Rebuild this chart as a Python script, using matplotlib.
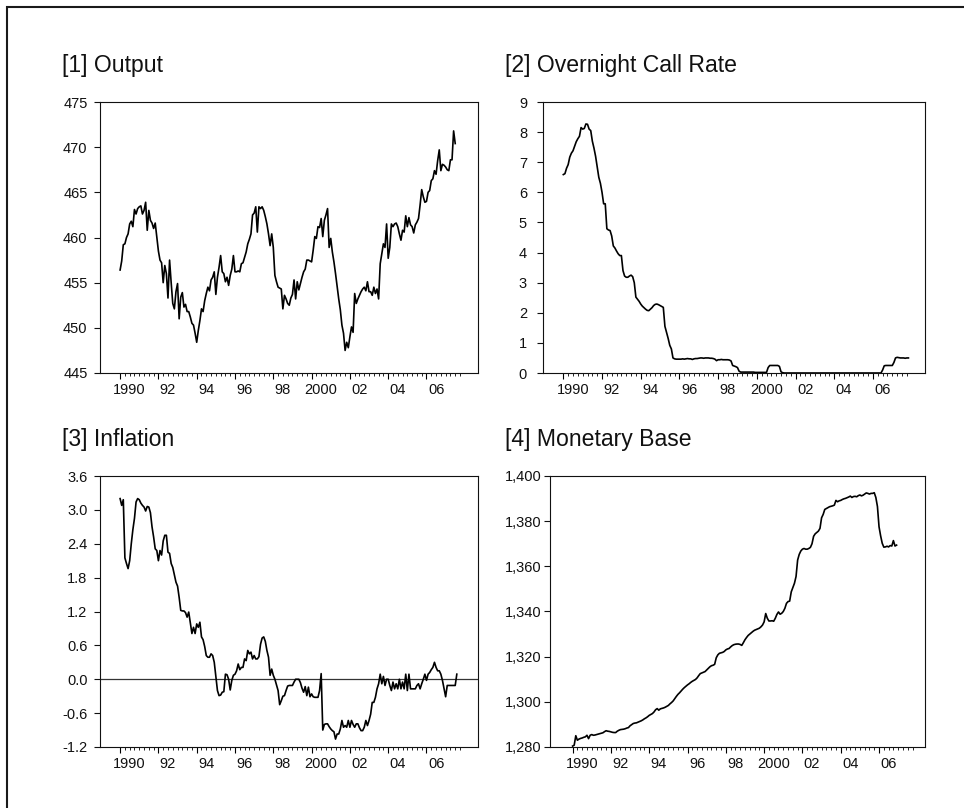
import numpy as np
import matplotlib
matplotlib.use('Agg')
import matplotlib.pyplot as plt
from matplotlib.patches import Rectangle

plt.rcParams['font.family'] = ['Liberation Sans', 'DejaVu Sans']

# monthly series, first observation January 1990
START = 1990

output = [
    456.4, 457.4, 459.2, 459.3, 460.0, 460.4, 461.5, 461.8, 461.2, 463.1, 462.6, 463.2,  # 1990
    463.4, 463.5, 462.6, 463.0, 463.9, 460.8, 463.0, 461.9, 461.6, 461.0, 461.6, 460.0,  # 1991
    458.5, 457.5, 457.2, 455.0, 456.9, 456.0, 453.3, 457.5, 455.0, 452.7, 452.1, 454.0,  # 1992
    454.9, 451.0, 453.4, 453.9, 452.3, 452.6, 451.8, 451.8, 451.2, 450.5, 450.3, 449.4,  # 1993
    448.4, 449.7, 450.8, 452.1, 451.8, 453.0, 453.8, 454.5, 454.1, 455.3, 455.6, 456.2,  # 1994
    453.7, 455.6, 456.7, 458.0, 456.2, 456.0, 455.1, 455.6, 454.7, 455.8, 456.5, 458.0,  # 1995
    456.2, 456.2, 456.3, 456.2, 457.1, 457.2, 457.8, 458.4, 459.3, 459.8, 460.4, 462.5,  # 1996
    462.7, 463.4, 460.6, 463.4, 463.2, 463.4, 463.0, 462.3, 461.5, 460.4, 459.1, 460.4,  # 1997
    458.9, 455.8, 455.1, 454.5, 454.4, 454.3, 452.1, 453.6, 453.2, 452.7, 452.5, 453.3,  # 1998
    453.7, 455.3, 453.2, 455.1, 454.2, 454.9, 455.6, 456.2, 456.5, 457.5, 457.5, 457.4,  # 1999
    457.3, 458.6, 460.1, 459.9, 461.2, 461.1, 462.1, 460.1, 461.9, 462.5, 463.2, 458.9,  # 2000
    459.9, 458.4, 457.3, 456.0, 454.6, 453.2, 452.0, 450.3, 449.4, 447.5, 448.4, 447.8,  # 2001
    449.0, 450.1, 449.5, 453.8, 452.7, 453.2, 453.6, 454.0, 454.3, 454.5, 454.1, 455.1,  # 2002
    454.0, 454.0, 453.6, 454.5, 453.8, 454.3, 453.2, 457.1, 458.2, 459.3, 458.9, 461.5,  # 2003
    457.7, 458.9, 461.5, 461.2, 461.5, 461.6, 461.2, 460.4, 459.7, 460.8, 460.6, 462.4,  # 2004
    461.2, 462.2, 461.4, 461.2, 460.5, 461.4, 461.7, 462.1, 463.6, 465.3, 464.5, 463.9,  # 2005
    464.0, 465.0, 465.2, 466.3, 466.5, 467.4, 467.0, 468.5, 469.7, 467.4, 468.1, 468.0,  # 2006
    467.8, 467.5, 467.4, 468.6, 468.6, 471.8, 470.4,                                      # 2007
]

call_rate = [
    6.59, 6.62, 6.80, 6.92, 7.17, 7.30, 7.38, 7.53, 7.68, 7.78, 7.86, 8.15,  # 1990
    8.10, 8.12, 8.27, 8.26, 8.10, 8.05, 7.70, 7.47, 7.20, 6.85, 6.50, 6.30,  # 1991
    6.00, 5.62, 5.62, 4.79, 4.75, 4.73, 4.55, 4.22, 4.15, 4.05, 3.96, 3.90,  # 1992
    3.90, 3.40, 3.22, 3.18, 3.18, 3.22, 3.25, 3.20, 3.00, 2.52, 2.45, 2.38,  # 1993
    2.29, 2.22, 2.17, 2.12, 2.08, 2.07, 2.12, 2.17, 2.24, 2.28, 2.29, 2.27,  # 1994
    2.24, 2.21, 2.18, 1.55, 1.35, 1.15, 0.92, 0.80, 0.50, 0.47, 0.46, 0.46,  # 1995
    0.46, 0.46, 0.47, 0.46, 0.47, 0.48, 0.47, 0.47, 0.45, 0.47, 0.48, 0.48,  # 1996
    0.49, 0.50, 0.50, 0.49, 0.50, 0.50, 0.50, 0.49, 0.49, 0.48, 0.46, 0.41,  # 1997
    0.44, 0.44, 0.45, 0.44, 0.44, 0.44, 0.44, 0.43, 0.40, 0.25, 0.23, 0.21,  # 1998
    0.18, 0.06, 0.03, 0.03, 0.03, 0.03, 0.03, 0.03, 0.03, 0.03, 0.03, 0.02,  # 1999
    0.02, 0.02, 0.02, 0.02, 0.02, 0.02, 0.02, 0.18, 0.25, 0.25, 0.25, 0.25,  # 2000
    0.25, 0.25, 0.22, 0.04, 0.01, 0.00, 0.00, 0.00, 0.00, 0.00, 0.00, 0.00,  # 2001
    0.00, 0.00, 0.00, 0.00, 0.00, 0.00, 0.00, 0.00, 0.00, 0.00, 0.00, 0.00,  # 2002
    0.00, 0.00, 0.00, 0.00, 0.00, 0.00, 0.00, 0.00, 0.00, 0.00, 0.00, 0.00,  # 2003
    0.00, 0.00, 0.00, 0.00, 0.00, 0.00, 0.00, 0.00, 0.00, 0.00, 0.00, 0.00,  # 2004
    0.00, 0.00, 0.00, 0.00, 0.00, 0.00, 0.00, 0.00, 0.00, 0.00, 0.00, 0.00,  # 2005
    0.00, 0.00, 0.00, 0.00, 0.00, 0.00, 0.10, 0.24, 0.25, 0.25, 0.25, 0.25,  # 2006
    0.25, 0.35, 0.50, 0.52, 0.51, 0.50, 0.50, 0.50, 0.49, 0.50, 0.50,        # 2007
]

inflation = [
    3.20, 3.08, 3.18, 2.15, 2.05, 1.96, 2.10, 2.40, 2.65, 2.85, 3.14, 3.20,  # 1990
    3.18, 3.12, 3.08, 3.05, 2.98, 3.06, 3.05, 2.95, 2.70, 2.52, 2.31, 2.28,  # 1991
    2.10, 2.28, 2.20, 2.45, 2.55, 2.55, 2.25, 2.23, 2.05, 1.98, 1.85, 1.72,  # 1992
    1.65, 1.45, 1.22, 1.21, 1.21, 1.18, 1.10, 1.19, 1.00, 0.81, 0.92, 0.81,  # 1993
    0.98, 0.92, 1.01, 0.75, 0.70, 0.58, 0.42, 0.39, 0.39, 0.45, 0.42, 0.30,  # 1994
    0.05, -0.20, -0.29, -0.28, -0.23, -0.22, 0.09, 0.08, 0.00, -0.19, -0.02, 0.07,  # 1995
    0.09, 0.15, 0.27, 0.17, 0.21, 0.21, 0.36, 0.33, 0.51, 0.45, 0.48, 0.36,  # 1996
    0.42, 0.36, 0.36, 0.40, 0.62, 0.73, 0.75, 0.67, 0.51, 0.39, 0.07, 0.18,  # 1997
    0.07, 0.00, -0.10, -0.20, -0.45, -0.38, -0.30, -0.29, -0.20, -0.12, -0.11, -0.11,  # 1998
    -0.11, -0.05, 0.00, 0.00, 0.00, -0.06, -0.16, -0.23, -0.13, -0.29, -0.14, -0.31,  # 1999
    -0.26, -0.31, -0.32, -0.32, -0.32, -0.20, 0.10, -0.90, -0.80, -0.79, -0.79, -0.84,  # 2000
    -0.88, -0.91, -0.93, -1.06, -0.97, -0.97, -0.88, -0.73, -0.85, -0.82, -0.85, -0.73,  # 2001
    -0.85, -0.73, -0.80, -0.85, -0.79, -0.79, -0.86, -0.91, -0.91, -0.85, -0.73, -0.82,  # 2002
    -0.73, -0.62, -0.41, -0.41, -0.32, -0.17, -0.08, 0.09, -0.08, 0.05, -0.11, 0.00,  # 2003
    0.00, -0.11, -0.20, -0.05, -0.17, -0.08, -0.17, 0.00, -0.17, -0.05, -0.17, 0.09,  # 2004
    -0.20, 0.09, -0.17, -0.17, -0.17, -0.17, -0.11, -0.08, -0.17, -0.08, 0.00, 0.09,  # 2005
    -0.02, 0.09, 0.12, 0.17, 0.21, 0.30, 0.21, 0.15, 0.15, 0.09, -0.02, -0.17,  # 2006
    -0.31, -0.11, -0.11, -0.11, -0.11, -0.11, -0.11, 0.09,                      # 2007
]

monetary_base = [
    1280.4, 1280.8, 1285.0, 1283.0, 1283.5, 1283.8, 1284.0, 1284.3, 1284.5, 1285.2, 1283.7, 1285.2,  # 1990
    1285.5, 1285.2, 1285.3, 1285.5, 1285.7, 1285.9, 1286.1, 1286.3, 1286.8, 1287.2, 1287.0, 1286.9,  # 1991
    1286.7, 1286.5, 1286.4, 1286.4, 1287.0, 1287.4, 1287.7, 1287.8, 1287.9, 1288.1, 1288.4, 1288.6,  # 1992
    1289.4, 1289.9, 1290.4, 1290.6, 1290.7, 1291.0, 1291.3, 1291.6, 1292.0, 1292.5, 1292.9, 1293.4,  # 1993
    1294.0, 1294.4, 1294.8, 1295.5, 1296.5, 1297.0, 1296.3, 1296.9, 1297.1, 1297.3, 1297.6, 1298.0,  # 1994
    1298.4, 1299.1, 1299.7, 1300.4, 1301.4, 1302.4, 1303.3, 1304.0, 1304.8, 1305.6, 1306.3, 1306.9,  # 1995
    1307.5, 1308.0, 1308.6, 1309.1, 1309.5, 1309.9, 1310.6, 1311.6, 1312.5, 1312.8, 1313.1, 1313.4,  # 1996
    1314.1, 1314.8, 1315.5, 1316.0, 1316.2, 1316.6, 1319.5, 1320.8, 1321.5, 1321.7, 1321.9, 1322.3,  # 1997
    1323.0, 1323.4, 1323.6, 1324.3, 1324.9, 1325.3, 1325.5, 1325.6, 1325.6, 1325.4, 1325.0, 1326.2,  # 1998
    1327.5, 1328.5, 1329.4, 1330.0, 1330.6, 1331.2, 1331.7, 1332.0, 1332.3, 1332.6, 1333.2, 1334.0,  # 1999
    1335.4, 1339.1, 1337.0, 1335.8, 1335.8, 1335.9, 1335.7, 1337.0, 1338.7, 1339.8, 1338.8, 1339.2,  # 2000
    1340.0, 1341.4, 1343.6, 1344.4, 1344.6, 1348.7, 1350.6, 1352.5, 1355.5, 1362.8, 1365.3, 1366.8,  # 2001
    1367.6, 1367.9, 1367.6, 1367.6, 1367.9, 1368.4, 1370.0, 1373.3, 1374.4, 1375.0, 1375.6, 1376.8,  # 2002
    1381.5, 1383.0, 1385.2, 1385.6, 1386.0, 1386.4, 1386.6, 1386.8, 1387.1, 1389.2, 1388.6, 1389.0,  # 2003
    1389.2, 1389.6, 1389.9, 1390.1, 1390.4, 1390.7, 1391.1, 1390.5, 1390.9, 1391.0, 1390.8, 1391.3,  # 2004
    1391.6, 1391.2, 1391.5, 1392.0, 1392.5, 1392.3, 1392.0, 1392.3, 1392.3, 1392.6, 1390.5, 1386.5,  # 2005
    1377.5, 1373.5, 1370.2, 1368.5, 1368.6, 1368.9, 1368.6, 1369.2, 1369.0, 1371.4, 1369.0, 1369.4,  # 2006
]

titles = ['[1] Output', '[2] Overnight Call Rate', '[3] Inflation', '[4] Monetary Base']
year_ticks = [1990, 1992, 1994, 1996, 1998, 2000, 2002, 2004, 2006]
year_labels = ['1990', '92', '94', '96', '98', '2000', '02', '04', '06']

output_ticks = [445, 450, 455, 460, 465, 470, 475]
call_ticks = [0, 1, 2, 3, 4, 5, 6, 7, 8, 9]
infl_ticks = [-1.2, -0.6, 0.0, 0.6, 1.2, 1.8, 2.4, 3.0, 3.6]
base_ticks = [1280, 1300, 1320, 1340, 1360, 1380, 1400]

W, H = 964, 808
fig = plt.figure(figsize=(W / 100, H / 100), dpi=100)


def box(left, right, top, bottom):
    # pixel box -> figure fraction [l, b, w, h]
    return [left / W, 1 - bottom / H, (right - left) / W, (bottom - top) / H]


def months(series):
    return START + np.arange(len(series)) / 12.0


def style(ax, yticks, ylabels, xlim, ypad):
    ax.set_xlim(*xlim)
    ax.set_ylim(yticks[0], yticks[-1])
    ax.set_yticks(yticks)
    ax.set_yticklabels(ylabels)
    ax.tick_params(axis='y', direction='out', length=4.5, width=0.8, pad=ypad,
                   labelsize=10.5, colors='#111111')
    ax.set_xticks(year_ticks)
    ax.set_xticks(np.arange(1990, 2007.8, 0.25), minor=True)
    ax.tick_params(axis='x', which='major', direction='out', length=4, width=0.8)
    ax.tick_params(axis='x', which='minor', direction='out', length=2.2, width=0.6)
    ax.tick_params(axis='x', which='both', labelbottom=False)
    for s in ax.spines.values():
        s.set_linewidth(0.8)
        s.set_color('#111111')
    # year labels sit in the middle of each year
    sec = ax.secondary_xaxis('bottom')
    sec.set_xticks([y + 0.5 for y in year_ticks], year_labels)
    sec.set_xticks([], minor=True)
    sec.tick_params(length=0, pad=7.5, labelsize=10.5, colors='#111111')
    sec.spines['bottom'].set_visible(False)


ax1 = fig.add_axes(box(100, 478, 102, 373))
ax2 = fig.add_axes(box(543, 925, 102, 373))
ax3 = fig.add_axes(box(100, 478, 476, 747))
ax4 = fig.add_axes(box(550, 925, 476, 747))

ax1.plot(months(output), output, color='black', lw=1.2)
style(ax1, output_ticks, [str(v) for v in output_ticks], (1988.95, 2008.69), 4.5)

ax2.plot(months(call_rate), call_rate, color='black', lw=1.2)
style(ax2, call_ticks, [str(v) for v in call_ticks], (1988.95, 2008.69), 7)

ax3.axhline(0, color='#333333', lw=0.9)
ax3.plot(months(inflation), inflation, color='black', lw=1.2)
style(ax3, infl_ticks, ['%.1f' % v for v in infl_ticks], (1988.95, 2008.69), 4.5)

ax4.plot(months(monetary_base), monetary_base, color='black', lw=1.2)
style(ax4, base_ticks, ['{:,}'.format(v) for v in base_ticks], (1988.82, 2008.4), 1.8)

# panel titles
title_pos = [(62, 72), (505, 72), (62, 446), (505, 446)]
for t, (x, y) in zip(titles, title_pos):
    fig.text(x / W, 1 - y / H, t, fontsize=16.6, va='baseline', ha='left', color='#111111')

# outer frame (only top and left edges fall inside the picture)
fig.add_artist(Rectangle((7 / W, -0.1), 1.2, 1.1 - 7.5 / H, transform=fig.transFigure,
                         fill=False, lw=1.5, ec='#1a1a1a', clip_on=False))

fig.savefig('out.png', dpi=100)
